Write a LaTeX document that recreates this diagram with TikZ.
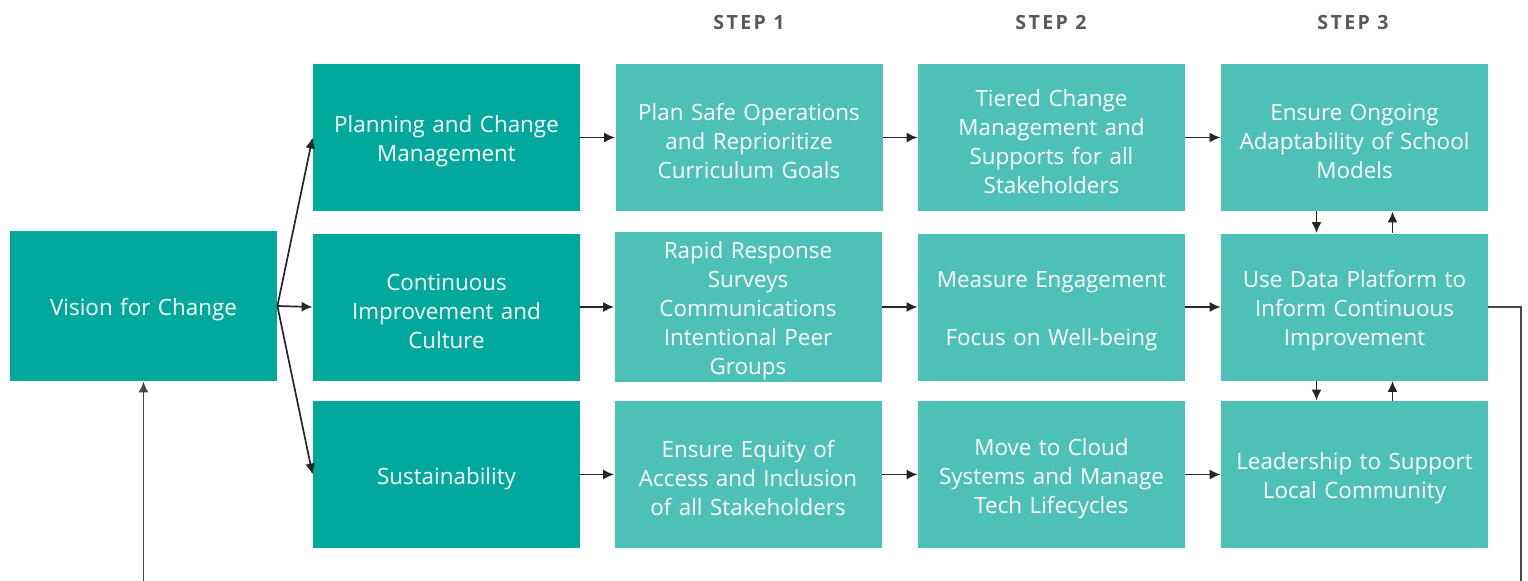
\documentclass[tikz,border=0pt]{standalone}
\usepackage{fontspec}
\setmainfont{Open Sans}
\usetikzlibrary{arrows.meta}
\definecolor{darkteal}{HTML}{00A99B}
\definecolor{lightteal}{HTML}{4DC1B8}
\definecolor{headgray}{HTML}{595959}
\definecolor{linegray}{HTML}{262626}
\newcommand{\boxlift}{\rule{0pt}{12.5pt}}
\begin{document}
\begin{tikzpicture}[x=0.5pt,y=-0.5pt,
  box/.style={minimum width=133.5pt, minimum height=73.5pt, inner sep=1pt, text width=131pt, align=center, text=white, font=\fontsize{11.2}{14.5}\selectfont, execute at begin node={\boxlift}},
  dark/.style={box, fill=darkteal},
  light/.style={box, fill=lightteal},
  head/.style={text=headgray, font=\fontsize{9.8}{11}\selectfont\bfseries\addfontfeature{LetterSpace=12}},
  arr/.style={-{Latex[length=5.5pt,width=5pt]}, line width=0.85pt, draw=linegray}]
\useasboundingbox (0,0) rectangle (1528,580);
% headers
\node[head] (h1) at (749,22) {STEP 1};
\node[head] (h2) at (1051,22) {STEP 2};
\node[head] (h3) at (1353,22) {STEP 3};
% boxes
\node[dark, minimum height=75pt] (vision) at (143.5,306) {Vision for Change};
\node[dark] (c1) at (446.5,137.5) {Planning and Change\\Management};
\node[dark] (c2) at (446.5,307) {Continuous\\Improvement and\\Culture};
\node[dark] (c3) at (446.5,474.5) {Sustainability};
\node[light] (a1) at (749,137.5) {Plan Safe Operations\\and Reprioritize\\Curriculum Goals};
\node[light] (a2) at (748,307) {Rapid Response\\Surveys\\Communications\\Intentional Peer\\Groups};
\node[light] (a3) at (748,474.5) {Ensure Equity of\\Access and Inclusion\\of all Stakeholders};
\node[light] (b1) at (1051.5,137.5) {Tiered Change\\Management and\\Supports for all\\Stakeholders};
\node[light] (b2) at (1051.5,307) {Measure Engagement\\[14.5pt]Focus on Well-being};
\node[light] (b3) at (1051.5,474.5) {Move to Cloud\\Systems and Manage\\Tech Lifecycles};
\node[light] (d1) at (1354.5,137.5) {Ensure Ongoing\\Adaptability of School\\Models};
\node[light] (d2) at (1354.5,307) {Use Data Platform to\\Inform Continuous\\Improvement};
\node[light] (d3) at (1354.5,474.5) {Leadership to Support\\Local Community};
% connectors
\draw[arr] (vision.east) -- (c1.west);
\draw[arr] (vision.east) -- (c2.west);
\draw[arr] (vision.east) -- (c3.west);
\foreach \r in {1,2,3}{
  \draw[arr] (c\r.east) -- (a\r.west);
  \draw[arr] (a\r.east) -- (b\r.west);
  \draw[arr] (b\r.east) -- (d\r.west);
}
\draw[arr] ([xshift=-19pt]d1.south) -- ([xshift=-19pt]d2.north);
\draw[arr] ([xshift=19pt]d2.north) -- ([xshift=19pt]d1.south);
\draw[arr] ([xshift=-19pt]d2.south) -- ([xshift=-19pt]d3.north);
\draw[arr] ([xshift=19pt]d3.north) -- ([xshift=19pt]d2.south);
\coordinate (fbR) at (1521,600);
\coordinate (fbL) at (vision.south |- fbR);
\draw[arr, draw=linegray!85] (d2.east) -| (fbR) -- (fbL) -- (vision.south);
\end{tikzpicture}
\end{document}
